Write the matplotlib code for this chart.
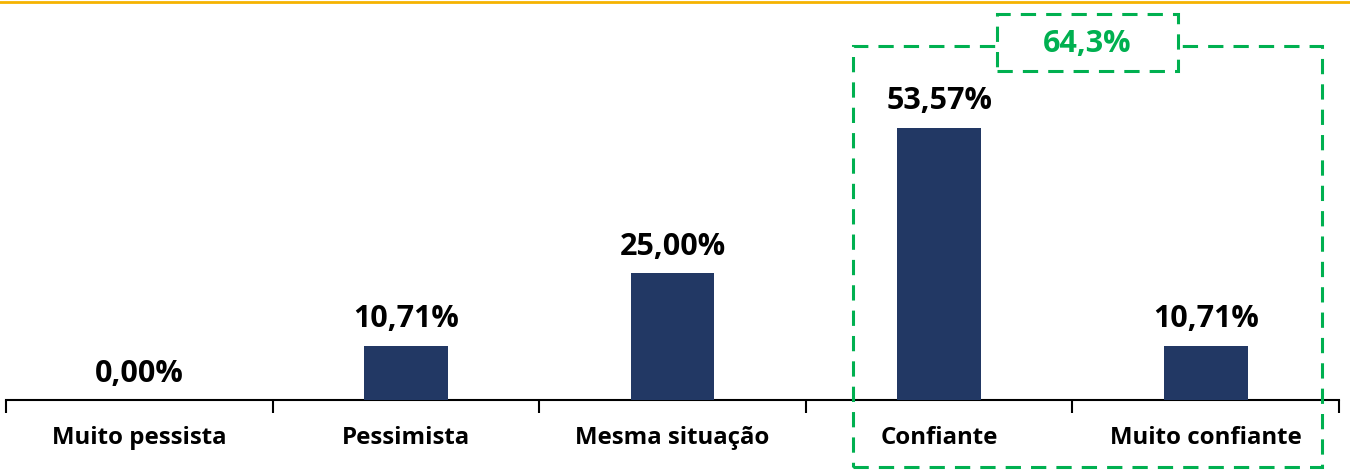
import matplotlib.pyplot as plt
import matplotlib.patches as mpatches
import numpy as np

categorias = ['Muito pessista', 'Pessimista', 'Mesma situação', 'Confiante', 'Muito confiante']
valores = [0.00, 10.71, 25.00, 53.57, 10.71]
rotulos = ['0,00%', '10,71%', '25,00%', '53,57%', '10,71%']
destaque = '64,3%'

W, H = 1350, 474
fig = plt.figure(figsize=(W / 100, H / 100), dpi=100)
plt.rcParams['font.family'] = ['Open Sans', 'DejaVu Sans']

ax = fig.add_axes([6 / W, 74 / H, 1333 / W, 400 / H])
x = np.arange(len(categorias))
ax.bar(x, valores, width=0.315, color='#223864', zorder=3)
ax.set_xlim(-0.5, len(categorias) - 0.5)
ax.set_ylim(0, 78.7)

for xi, v, r in zip(x, valores, rotulos):
    ax.text(xi, v + 3.6, r, ha='center', va='baseline',
            fontsize=22, fontweight='bold', color='black')

for s in ['top', 'right', 'left']:
    ax.spines[s].set_visible(False)
ax.spines['bottom'].set_linewidth(1.5)
ax.set_yticks([])
ax.set_xticks(x)
ax.set_xticklabels(categorias, fontsize=17.3, fontweight='bold')
ax.tick_params(axis='x', which='major', length=0, pad=19)
ax.set_xticks(np.arange(-0.5, len(categorias)), minor=True)
ax.tick_params(axis='x', which='minor', length=9, width=1.5, direction='out')

# linha laranja no topo
fig.add_artist(plt.Line2D([0, 1], [1 - 1.5 / H, 1 - 1.5 / H], color='#F5B301', lw=2))

# caixas verdes tracejadas
verde = '#00B050'
ls = (0, (5, 3.3))
caixa = mpatches.Rectangle((853 / W, 1 - 467 / H), (1322 - 853) / W, (467 - 46) / H,
                           transform=fig.transFigure, fill=False, edgecolor=verde,
                           lw=2.2, linestyle=ls, zorder=5)
fig.add_artist(caixa)
caixa2 = mpatches.Rectangle((997 / W, 1 - 71 / H), (1178 - 997) / W, (71 - 14) / H,
                            transform=fig.transFigure, facecolor='white', edgecolor=verde,
                            lw=2.2, linestyle=ls, zorder=6)
fig.add_artist(caixa2)
fig.text(1087 / W, 1 - 44 / H, destaque, ha='center', va='center', fontsize=22,
         fontweight='bold', color=verde, zorder=7)

fig.savefig('out.png', dpi=100)
